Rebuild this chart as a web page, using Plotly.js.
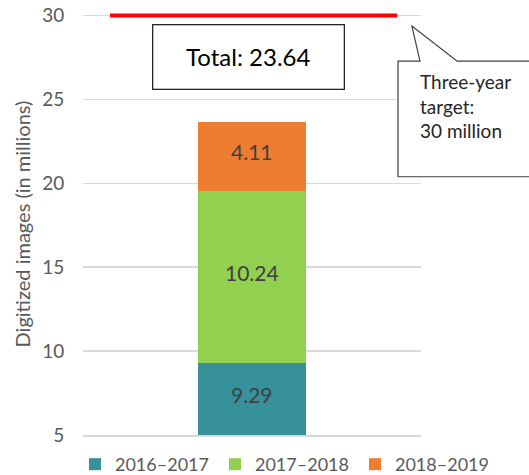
<!DOCTYPE html>
<html>
<head>
<meta charset="utf-8">
<script src="https://cdn.plot.ly/plotly-3.0.1.min.js"></script>
<style>html,body{margin:0;padding:0;background:#fff;}#chart{width:529px;height:475px;}</style>
</head>
<body>
<div id="chart"></div>
<script>
const category = [0];
const seriesNames = ['2016–2017', '2017–2018', '2018–2019'];
const seriesValues = [[9.29], [10.24], [4.11]];
const seriesColors = ['#36919a', '#92d050', '#ed7d31'];
const total = 23.64;
const target = 30;
const targetX = [-0.42, 0.43];
const yTicks = [5, 10, 15, 20, 25, 30];
const yMin = 5;

const FONT = 'Lato, "Open Sans", sans-serif';
const GRAY = '#595959';

const traces = seriesNames.map((name, i) => ({
  type: 'bar',
  name: name,
  x: category,
  y: seriesValues[i],
  width: 0.317,
  marker: {color: seriesColors[i]},
  hoverinfo: 'skip'
}));

traces.push({
  type: 'scatter',
  mode: 'lines',
  x: targetX,
  y: [target, target],
  line: {color: '#ff0000', width: 4},
  showlegend: false,
  hoverinfo: 'skip'
});

// value labels at the centre of each visible segment
const labelAnnotations = [];
let cum = 0;
seriesValues.forEach((vals) => {
  const lo = Math.max(cum, yMin);
  const hi = cum + vals[0];
  labelAnnotations.push({
    xref: 'x', yref: 'y',
    x: category[0], y: (lo + hi) / 2,
    yshift: 5,
    text: vals[0].toFixed(2),
    showarrow: false,
    font: {family: FONT, size: 21, color: '#404040'}
  });
  cum = hi;
});

const layout = {
  width: 529,
  height: 475,
  margin: {l: 83, r: 108, t: 12.5, b: 40, autoexpand: false},
  paper_bgcolor: '#ffffff',
  plot_bgcolor: '#ffffff',
  barmode: 'stack',
  showlegend: true,
  font: {family: FONT, color: GRAY},
  xaxis: {
    range: [-0.5, 0.5],
    showticklabels: false,
    showgrid: false,
    zeroline: false,
    showline: true,
    linecolor: '#d9d9d9',
    linewidth: 1.5,
    fixedrange: true
  },
  yaxis: {
    range: [yMin, 30.15],
    tickvals: yTicks,
    ticktext: yTicks.map(String),
    showgrid: true,
    gridcolor: '#d9d9d9',
    gridwidth: 1.5,
    zeroline: false,
    ticks: 'outside',
    ticklen: 14,
    tickcolor: 'rgba(0,0,0,0)',
    tickfont: {family: FONT, size: 19, color: GRAY},
    title: {text: 'Digitized images (in millions)', font: {family: FONT, size: 20, color: GRAY}, standoff: 6},
    fixedrange: true
  },
  legend: {
    orientation: 'h',
    x: -0.0237,
    xanchor: 'left',
    y: -0.026,
    yanchor: 'top',
    entrywidth: 95,
    entrywidthmode: 'pixels',
    font: {family: FONT, size: 18, color: GRAY},
    traceorder: 'normal'
  },
  shapes: [{
    type: 'path',
    xref: 'paper', yref: 'paper',
    path: 'M 0.932 0.886 L 0.997 0.886 L 0.973 0.969 L 1.107 0.886 L 1.4 0.886 L 1.4 0.612 L 0.932 0.612 Z',
    fillcolor: '#ffffff',
    line: {color: '#404040', width: 1.2}
  }],
  annotations: labelAnnotations.concat([{
    xref: 'x', yref: 'y',
    x: -0.009, y: 27.53,
    text: 'Total: ' + total.toFixed(2),
    showarrow: false,
    font: {family: FONT, size: 24, color: '#000000'},
    width: 188, height: 61,
    bordercolor: '#262626', borderwidth: 1.3,
    bgcolor: '#ffffff'
  }, {
    xref: 'paper', yref: 'paper',
    x: 0.991, y: 0.779,
    xanchor: 'left', yanchor: 'middle',
    align: 'left',
    text: 'Three-year<br>target:<br>' + target + ' million',
    showarrow: false,
    font: {family: FONT, size: 19, color: '#262626'}
  }])
};

Plotly.newPlot('chart', traces, layout, {displayModeBar: false, staticPlot: true});
</script>
</body>
</html>
